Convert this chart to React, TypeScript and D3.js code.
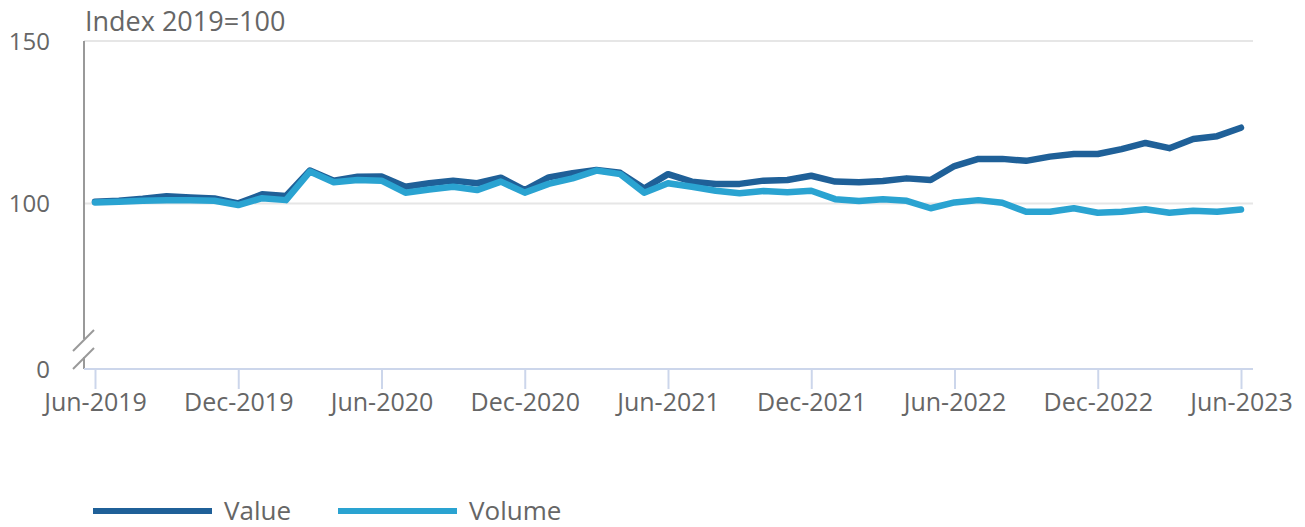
import { axisBottom, line, scaleLinear, scalePoint, select, timeFormat, timeMonth } from 'd3'
import { useEffect, useRef } from 'react'

// monthly categories, Jun-2019 .. Jun-2023
const months = timeMonth.range(new Date(2019, 5, 1), new Date(2023, 6, 1)).map(timeFormat('%b-%Y'))

const valueSeries = [
  100.5, 100.8, 101.4, 102.2, 101.8, 101.5, 100.0, 102.8, 102.3, 110.1, 107.0, 108.2, 108.3,
  105.1, 106.2, 107.0, 106.2, 107.9, 104.1, 108.0, 109.3, 110.3, 109.4, 104.6, 109.0,
  106.7, 106.0, 106.0, 107.0, 107.2, 108.5, 106.7, 106.5, 106.9, 107.7, 107.2, 111.5,
  113.7, 113.7, 113.1, 114.4, 115.2, 115.2, 116.7, 118.6, 117.0, 119.8, 120.7, 123.3,
]

const volumeSeries = [
  100.3, 100.5, 100.8, 101.0, 101.0, 100.8, 99.5, 101.6, 101.0, 109.8, 106.5, 107.2, 107.0,
  103.3, 104.3, 105.1, 104.1, 106.7, 103.3, 106.0, 107.7, 110.1, 109.0, 103.3, 106.2,
  105.1, 103.9, 103.1, 103.8, 103.4, 103.9, 101.3, 100.7, 101.3, 100.8, 98.5, 100.3,
  101.0, 100.2, 97.4, 97.4, 98.5, 97.1, 97.4, 98.2, 97.1, 97.7, 97.4, 98.1,
]

const xTickLabels = months.filter((_, i) => i % 6 === 0)
// axis is broken below 100: the bottom of the axis is labelled 0
const yTickValues = [49, 100, 150]
const yTickLabels = ['0', '100', '150']

const seriesNames = ['Value', 'Volume']
const seriesColors = ['#1f6098', '#2aa3d1']

export default function App() {
  const svgRef = useRef<SVGSVGElement>(null)

  useEffect(() => {
    const font = '"Open Sans", "Noto Sans", sans-serif'
    const textColor = '#666666'
    const left = 84
    const right = 1253
    const bottom = 369

    const svg = select(svgRef.current)
    svg.selectAll('*').remove()

    const x = scalePoint<string>().domain(months).range([95, 1241])
    const y = scaleLinear().domain([49, 150]).range([bottom, 41])

    // grid lines
    svg
      .selectAll('line.grid')
      .data([100, 150])
      .enter()
      .append('line')
      .attr('x1', left)
      .attr('x2', right)
      .attr('y1', (d) => y(d))
      .attr('y2', (d) => y(d))
      .attr('stroke', '#e6e6e6')
      .attr('stroke-width', 2)

    // title
    svg
      .append('text')
      .attr('x', 85)
      .attr('y', 31)
      .attr('fill', textColor)
      .style('font-family', font)
      .style('font-size', '27px')
      .text('Index 2019=100')

    // y labels
    svg
      .selectAll('text.ylab')
      .data(yTickValues)
      .enter()
      .append('text')
      .attr('x', 50)
      .attr('y', (d) => y(d) + 9)
      .attr('text-anchor', 'end')
      .attr('fill', textColor)
      .style('font-family', font)
      .style('font-size', '24px')
      .text((_, i) => yTickLabels[i])

    // y axis line with break marks
    const yAxis = svg.append('g').attr('stroke', '#999999').attr('stroke-width', 2).attr('fill', 'none')
    yAxis.append('line').attr('x1', left).attr('x2', left).attr('y1', y(150)).attr('y2', 339)
    yAxis.append('line').attr('x1', left).attr('x2', left).attr('y1', 357).attr('y2', bottom)
    yAxis.append('line').attr('x1', 73).attr('x2', 94).attr('y1', 351).attr('y2', 330)
    yAxis.append('line').attr('x1', 73).attr('x2', 94).attr('y1', 369).attr('y2', 348)

    // x axis
    const gx = svg
      .append('g')
      .attr('transform', 'translate(0,' + bottom + ')')
      .call(axisBottom(x).tickValues(xTickLabels).tickSize(20).tickSizeOuter(0).tickPadding(4))
    gx.select('.domain').remove()
    gx.selectAll('line').attr('stroke', '#ccd6eb').attr('stroke-width', 2)
    gx.selectAll('text')
      .attr('fill', textColor)
      .style('font-family', font)
      .style('font-size', '25px')
      .attr('dy', '0.71em')
    gx.append('line')
      .attr('x1', left)
      .attr('x2', right)
      .attr('y1', 0)
      .attr('y2', 0)
      .attr('stroke', '#ccd6eb')
      .attr('stroke-width', 2)

    // lines
    const lineGen = line<number>()
      .x((_, i) => x(months[i]) as number)
      .y((d) => y(d))
    ;[valueSeries, volumeSeries].forEach((series, k) => {
      svg
        .append('path')
        .datum(series)
        .attr('d', lineGen)
        .attr('fill', 'none')
        .attr('stroke', seriesColors[k])
        .attr('stroke-width', 6.5)
        .attr('stroke-linejoin', 'round')
        .attr('stroke-linecap', 'round')
    })

    // legend
    const legendX = [93, 338]
    seriesNames.forEach((name, k) => {
      svg
        .append('line')
        .attr('x1', legendX[k])
        .attr('x2', legendX[k] + 119)
        .attr('y1', 511)
        .attr('y2', 511)
        .attr('stroke', seriesColors[k])
        .attr('stroke-width', 6)
      svg
        .append('text')
        .attr('x', legendX[k] + 131)
        .attr('y', 520)
        .attr('fill', textColor)
        .style('font-family', font)
        .style('font-size', '26px')
        .text(name)
    })
  }, [])

  return (
    <svg
      ref={svgRef}
      width={1305}
      height={527}
      style={{ position: 'absolute', left: 0, top: 0, background: '#fff' }}
    />
  )
}
